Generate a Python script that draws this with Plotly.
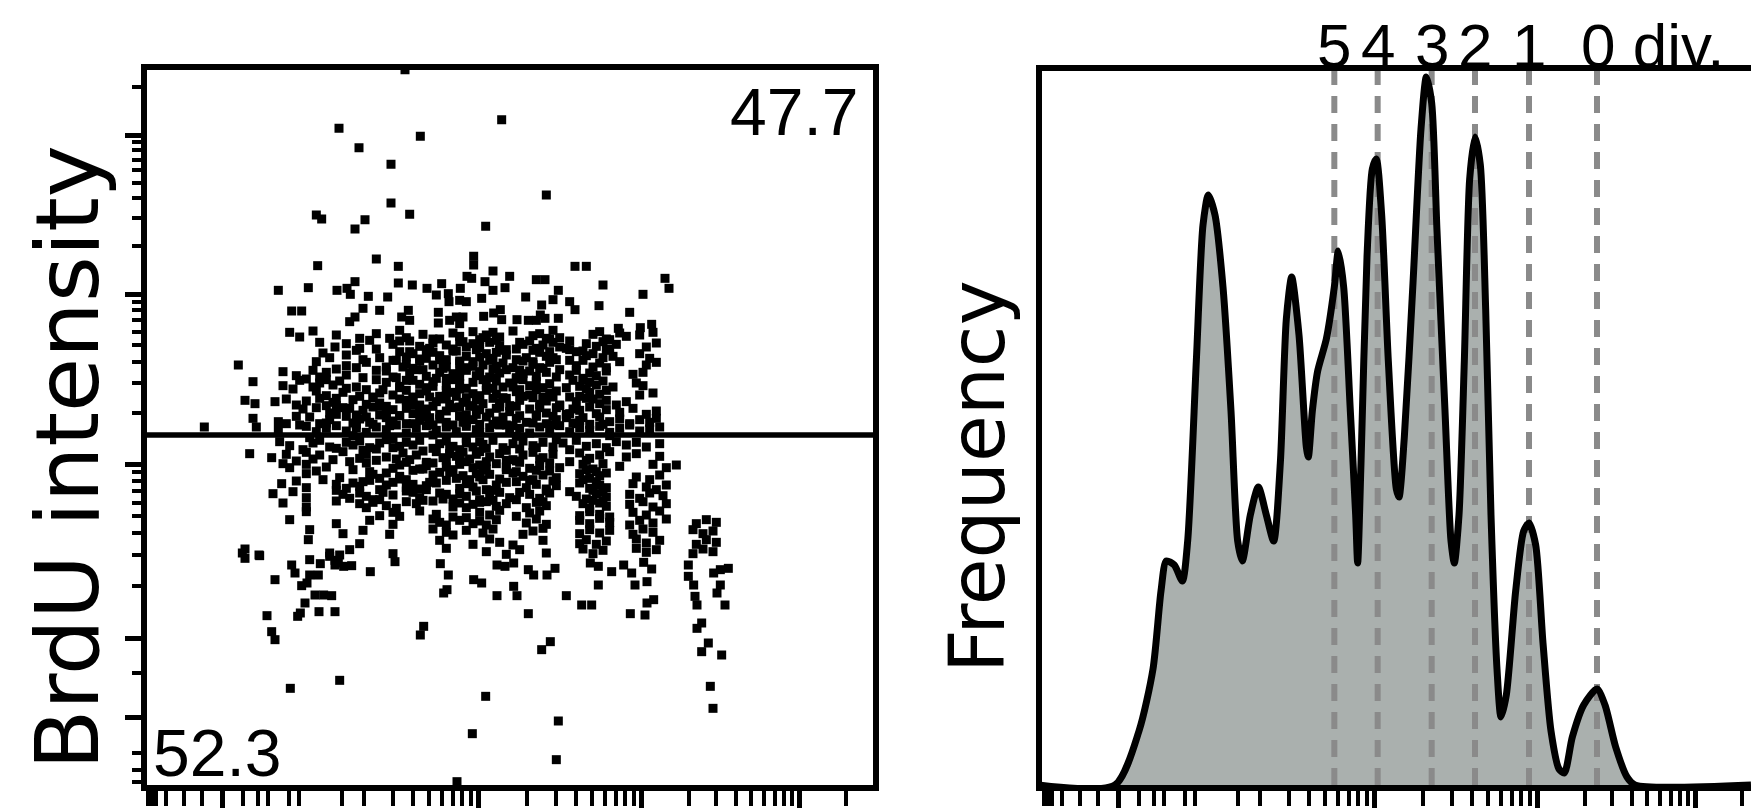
import numpy as np
import plotly.graph_objects as go

# ---------------- BrdU vs CFSE dot plot (channel units) ----------------
# isolated events: (CFSE channel, BrdU channel)
sparse_points = [
    (393, 1076), (294, 988), (416, 976), (324, 959), (372, 934), (538, 1001), (372, 876),
    (260, 858), (268, 852), (400, 859), (333, 851), (318, 837), (605, 888), (514, 841),
    (350, 792), (262, 782), (383, 781), (383, 756), (496, 796), (496, 783), (203, 745),
    (248, 749), (291, 745), (306, 748), (311, 739), (318, 758), (404, 753), (426, 748),
    (448, 755), (440, 738), (458, 740), (459, 728), (476, 748), (486, 766), (493, 763),
    (338, 736), (367, 735), (223, 714), (238, 714), (330, 718), (318, 705), (310, 698),
    (355, 715), (388, 705), (398, 715), (400, 700), (443, 712), (443, 696), (460, 700),
    (470, 705), (480, 705), (475, 695), (475, 730), (485, 728),
    (648, 781), (665, 781), (525, 774), (550, 766), (590, 761), (603, 761), (513, 758),
    (525, 745), (543, 749), (783, 763), (789, 748), (690, 753), (750, 739), (623, 745),
    (615, 731), (574, 735), (640, 728), (648, 716), (684, 722), (730, 712), (763, 694),
    (598, 723), (596, 708), (603, 703), (590, 700), (536, 716), (526, 711), (538, 701),
    (508, 733), (511, 706), (561, 701), (578, 700), (623, 703), (713, 688), (746, 689),
    (143, 633), (92, 540), (149, 351), (174, 348),
    (198, 311), (223, 333), (228, 321), (250, 318), (263, 318), (246, 306), (238, 302),
    (266, 335), (288, 333), (301, 331), (313, 332), (293, 336), (341, 323), (378, 338),
    (446, 335), (458, 318), (456, 296), (451, 291), (496, 311), (258, 288), (271, 288),
    (283, 287), (243, 276), (236, 261), (232, 256), (264, 263), (288, 263), (186, 257),
    (193, 233), (198, 221), (421, 241), (416, 228), (295, 160), (221, 148), (494, 80),
    (471, 8),
    (531, 333), (543, 331), (556, 336), (508, 306), (531, 287), (556, 301), (561, 287),
    (578, 326), (586, 318), (606, 318), (618, 328), (578, 260), (635, 287), (611, 218),
    (598, 206), (671, 336), (683, 331), (703, 323), (683, 303), (658, 273), (673, 273),
    (721, 333), (733, 321), (738, 303), (751, 337), (763, 327), (756, 308), (731, 260),
    (753, 258), (756, 276), (766, 281), (818, 333), (818, 316), (826, 303), (828, 286),
    (831, 273), (856, 321), (866, 326), (878, 328), (866, 303), (861, 291), (873, 273),
    (838, 246), (831, 238), (848, 216), (838, 203), (868, 198), (851, 151), (855, 118),
    (514, 136), (623, 99), (620, 41),
]

# dense core, one band at a time: (CFSE channels, BrdU channels)
core_bands = [
    ([220, 235, 255, 290, 325, 350, 385, 395, 420, 435, 465, 475, 495, 505, 515, 525, 535, 555,
      585, 595, 605, 615, 625, 675, 685, 695, 715, 725, 745, 765],
     [682, 675, 684, 678, 673, 680, 685, 674, 679, 672, 681, 676, 683, 671, 678, 682, 675, 684,
      677, 680, 673, 685, 674, 679, 683, 672, 681, 676, 678, 682]),
    ([340, 370, 400, 445, 480, 510, 530, 565, 610, 640, 700],
     [670, 673, 669, 672, 668, 674, 670, 667, 672, 669, 671]),
    ([265, 288, 305, 325, 375, 385, 415, 425, 435, 455, 465, 475, 485, 495, 505, 520, 535, 545,
      570, 580, 590, 600, 615, 625, 640, 665, 680, 690, 700, 710, 755, 770],
     [667, 660, 665, 658, 664, 669, 661, 656, 666, 663, 657, 668, 660, 665, 659, 667, 662, 656,
      664, 669, 658, 663, 667, 660, 656, 665, 661, 668, 657, 664, 660, 666]),
    ([320, 350, 400, 430, 470, 500, 530, 560, 585, 610, 635, 660],
     [655, 657, 653, 658, 654, 656, 652, 657, 655, 653, 658, 654]),
    ([270, 280, 305, 385, 395, 405, 415, 435, 445, 455, 465, 485, 515, 525, 535, 545, 575, 595,
      605, 620, 650, 665, 675, 690, 695, 705, 745, 760],
     [651, 644, 648, 653, 645, 650, 642, 652, 647, 641, 654, 646, 650, 643, 655, 648, 644, 652,
      646, 641, 653, 647, 650, 644, 655, 646, 650, 643]),
    ([330, 355, 380, 425, 475, 505, 560, 585, 615, 640],
     [641, 644, 640, 643, 639, 645, 641, 638, 644, 640]),
    ([260, 305, 335, 365, 375, 395, 405, 415, 435, 445, 455, 475, 485, 495, 510, 520, 530, 540,
      555, 570, 585, 600, 610, 650, 660, 675, 685, 695, 715, 755, 770],
     [638, 632, 637, 630, 640, 634, 628, 639, 633, 641, 630, 636, 629, 638, 633, 640, 631, 636,
      629, 639, 634, 628, 637, 632, 640, 630, 636, 629, 638, 633, 637]),
    ([290, 320, 350, 390, 420, 450, 475, 495, 525, 565, 595, 625],
     [627, 629, 625, 630, 626, 628, 624, 631, 627, 625, 629, 626]),
    ([210, 230, 255, 265, 275, 305, 365, 380, 400, 410, 425, 445, 455, 465, 485, 500, 505, 520,
      535, 545, 560, 570, 580, 590, 605, 640, 650, 660, 670, 680, 695, 735, 750],
     [623, 617, 625, 615, 622, 618, 624, 614, 621, 626, 616, 622, 613, 620, 625, 617, 623, 615,
      621, 626, 614, 620, 624, 616, 622, 618, 625, 613, 621, 617, 624, 619, 622]),
    ([245, 330, 350, 375, 405, 440, 475, 510, 525, 560, 620, 660],
     [612, 614, 611, 615, 610, 613, 616, 611, 614, 612, 615, 610]),
    ([165, 210, 235, 255, 265, 275, 285, 295, 305, 365, 385, 395, 415, 425, 435, 455, 465, 475,
      485, 495, 515, 530, 540, 550, 570, 580, 590, 600, 610, 645, 655, 670, 680, 690, 705, 740, 750],
     [608, 602, 610, 600, 606, 611, 603, 609, 598, 607, 601, 610, 604, 599, 608, 602, 611, 605,
      598, 607, 603, 609, 600, 606, 611, 602, 608, 599, 605, 610, 601, 607, 603, 609, 600, 606, 602]),
    ([225, 320, 360, 385, 435, 455, 525, 555, 565, 635, 665],
     [597, 600, 596, 599, 601, 595, 598, 600, 596, 599, 597]),
    ([260, 275, 300, 335, 345, 355, 375, 395, 405, 415, 425, 445, 465, 475, 485, 495, 505, 515,
      530, 545, 560, 580, 590, 600, 610, 620, 655, 670, 685, 695, 745, 765],
     [594, 587, 592, 596, 585, 591, 588, 595, 583, 590, 594, 586, 592, 597, 584, 590, 587, 595,
      589, 583, 593, 588, 596, 585, 591, 594, 586, 592, 589, 595, 588, 591]),
    ([290, 325, 385, 430, 455, 500, 540, 570, 600, 640, 665],
     [583, 586, 582, 585, 587, 581, 584, 586, 582, 585, 583]),
    ([153, 168, 198, 215, 230, 245, 265, 275, 285, 315, 335, 345, 355, 365, 395, 405, 415, 440,
      450, 460, 470, 480, 490, 505, 510, 525, 535, 550, 565, 585, 595, 605, 615, 625, 650, 675,
      685, 695, 710, 725],
     [580, 575, 578, 582, 573, 579, 583, 572, 577, 581, 574, 584, 576, 571, 580, 585, 573, 578,
      582, 574, 586, 577, 571, 581, 575, 583, 576, 572, 580, 584, 574, 579, 585, 572, 578, 582,
      575, 580, 573, 578]),
    ([260, 290, 310, 355, 405, 425, 475, 495, 530, 560, 595, 625, 645],
     [569, 572, 568, 571, 573, 567, 570, 572, 568, 571, 569, 573, 567]),
    ([240, 280, 300, 320, 330, 345, 365, 375, 385, 395, 415, 435, 445, 455, 465, 485, 505, 520,
      535, 550, 565, 580, 605, 620, 635, 655, 670, 680, 695, 715, 735, 755, 770],
     [567, 561, 569, 558, 565, 570, 560, 566, 557, 568, 562, 571, 559, 564, 569, 558, 566, 561,
      570, 563, 557, 567, 561, 569, 559, 565, 570, 560, 566, 562, 568, 559, 564]),
    ([230, 290, 335, 355, 405, 430, 475, 500, 540, 590, 615, 640, 660],
     [556, 559, 555, 558, 560, 554, 557, 559, 555, 558, 556, 560, 554]),
    ([165, 203, 250, 265, 280, 305, 315, 325, 345, 365, 375, 385, 395, 415, 425, 435, 445, 455,
      475, 485, 495, 505, 515, 530, 545, 560, 575, 590, 605, 620, 635, 645, 655, 670, 685, 700,
      715, 730, 745, 760, 770],
     [553, 548, 555, 545, 551, 556, 546, 552, 544, 554, 549, 557, 545, 550, 555, 543, 552, 547,
      556, 546, 551, 544, 555, 549, 543, 553, 547, 556, 545, 551, 554, 546, 550, 544, 555, 548,
      552, 545, 551, 547, 553]),
    ([215, 235, 275, 320, 340, 370, 405, 430, 465, 480, 525, 555, 585, 615, 650, 690],
     [545, 543, 546, 544, 547, 542, 545, 546, 543, 547, 544, 542, 546, 543, 545, 544]),
    ([170, 203, 245, 260, 275, 290, 305, 320, 335, 350, 365, 380, 395, 410, 425, 440, 455, 470,
      485, 500, 505, 520, 535, 550, 565, 580, 595, 610, 625, 640, 655, 670, 685, 700, 715, 730,
      745, 760, 775],
     [540, 535, 541, 533, 538, 542, 534, 539, 532, 540, 536, 543, 531, 538, 542, 535, 540, 533,
      541, 536, 532, 539, 543, 534, 538, 531, 540, 536, 542, 533, 539, 535, 541, 532, 538, 543,
      534, 537, 540]),
    ([250, 315, 375, 435, 485, 560, 620, 700],
     [524, 527, 522, 528, 523, 526, 521, 527]),
    ([205, 220, 255, 265, 280, 305, 315, 325, 340, 355, 365, 385, 395, 405, 415, 435, 445, 455,
      465, 485, 495, 505, 510, 525, 540, 555, 570, 585, 600, 615, 630, 650, 665, 680, 695, 710,
      725, 740, 755, 775],
     [518, 512, 516, 520, 510, 517, 513, 519, 509, 516, 521, 511, 517, 513, 520, 508, 515, 519,
      511, 516, 510, 518, 514, 520, 509, 515, 519, 512, 517, 510, 516, 520, 511, 515, 509, 518,
      513, 517, 510, 515]),
    ([240, 290, 330, 350, 375, 420, 460, 475, 515, 545, 565, 590, 640],
     [506, 508, 505, 507, 509, 504, 507, 506, 508, 505, 507, 509, 506]),
    ([160, 193, 215, 245, 255, 265, 300, 325, 335, 365, 390, 400, 410, 440, 450, 460, 470, 480,
      490, 500, 505, 520, 535, 555, 570, 585, 600, 615, 655, 670, 685, 700, 725, 740, 775],
     [500, 494, 499, 502, 492, 498, 503, 493, 499, 495, 501, 491, 498, 503, 494, 500, 496, 502,
      492, 499, 503, 495, 500, 491, 498, 502, 494, 499, 501, 493, 498, 503, 495, 500, 496]),
    ([230, 285, 310, 350, 380, 425, 455, 475, 515, 545, 560, 595, 640, 665],
     [489, 491, 488, 490, 492, 487, 490, 491, 488, 490, 489, 492, 488, 490]),
    ([210, 220, 245, 275, 335, 375, 385, 395, 415, 425, 435, 455, 465, 475, 485, 495, 505, 515,
      530, 545, 565, 580, 595, 610, 625, 660, 675, 690, 715, 765, 785, 800],
     [485, 479, 484, 480, 486, 478, 483, 487, 477, 482, 486, 480, 476, 484, 488, 479, 483, 477,
      485, 480, 487, 478, 482, 486, 479, 484, 477, 485, 481, 484, 479, 483]),
    ([260, 315, 340, 405, 420, 445, 510, 545, 560, 590, 610, 665, 680],
     [474, 476, 473, 475, 477, 472, 475, 476, 473, 475, 474, 476, 473]),
    ([245, 295, 345, 355, 365, 385, 395, 435, 460, 470, 480, 490, 500, 505, 520, 535, 555, 570,
      585, 600, 620, 655, 670, 685, 695, 740, 760, 775],
     [470, 464, 469, 463, 471, 466, 461, 468, 472, 463, 467, 461, 470, 465, 469, 462, 471, 466,
      461, 468, 464, 470, 463, 467, 471, 465, 461, 468]),
    ([230, 270, 330, 340, 385, 430, 455, 510, 560, 580, 615, 660, 680],
     [459, 461, 458, 460, 462, 457, 460, 461, 458, 460, 459, 461, 458]),
    ([208, 245, 290, 305, 315, 325, 355, 365, 375, 395, 405, 415, 425, 440, 475, 485, 495, 515,
      530, 545, 575, 590, 605, 620, 655, 670, 685, 695, 735, 755, 770, 785],
     [455, 449, 454, 448, 456, 451, 446, 453, 457, 449, 454, 447, 452, 456, 448, 455, 450, 446,
      453, 457, 449, 454, 447, 452, 456, 448, 453, 449, 455, 450, 446, 453]),
    ([225, 290, 360, 395, 425, 445, 500, 525, 565, 605, 640, 675, 690],
     [443, 445, 442, 444, 446, 441, 444, 445, 442, 444, 443, 445, 442]),
    ([195, 245, 300, 310, 325, 335, 345, 375, 405, 415, 455, 465, 475, 485, 505, 520, 535, 550,
      580, 595, 610, 650, 665, 680, 695, 730, 745, 760, 780],
     [440, 434, 439, 433, 441, 436, 431, 438, 442, 434, 439, 432, 440, 436, 431, 438, 442, 434,
      439, 433, 441, 436, 432, 440, 435, 439, 433, 441, 437]),
    ([290, 355, 395, 420, 450, 505, 525, 560, 600, 675, 690],
     [429, 431, 428, 430, 432, 427, 430, 431, 428, 430, 429]),
    ([210, 245, 325, 335, 345, 365, 380, 410, 435, 465, 475, 485, 495, 515, 530, 545, 575, 590,
      605, 660, 670, 685, 695, 730, 750, 765, 785],
     [426, 420, 425, 419, 427, 422, 418, 425, 429, 420, 426, 419, 424, 428, 421, 425, 419, 427,
      422, 425, 418, 426, 421, 424, 428, 420, 425]),
    ([245, 355, 375, 385, 415, 440, 465, 505, 520, 535, 560, 580, 595, 655, 670, 685, 700, 735,
      755, 775],
     [413, 407, 412, 406, 414, 409, 405, 412, 408, 415, 406, 411, 414, 407, 413, 409, 405, 412,
      408, 414]),
    ([220, 290, 340, 375, 435, 445, 455, 475, 485, 495, 505, 515, 530, 575, 590, 605, 655, 670,
      685, 700, 730, 745, 765, 785, 830, 845, 860],
     [401, 395, 400, 394, 402, 397, 393, 400, 404, 395, 399, 393, 401, 396, 402, 394, 400, 395,
      403, 397, 393, 400, 396, 402, 395, 401, 397]),
    ([250, 300, 330, 370, 435, 455, 465, 485, 510, 525, 570, 585, 600, 655, 670, 685, 700, 735,
      750, 765, 825, 840, 855],
     [386, 380, 385, 379, 387, 382, 378, 385, 381, 387, 379, 384, 388, 380, 386, 381, 385, 379,
      387, 382, 386, 380, 384]),
    ([248, 325, 445, 495, 520, 535, 555, 600, 655, 665, 680, 695, 740, 755, 775, 830, 845, 860],
     [371, 365, 370, 364, 372, 367, 363, 370, 365, 371, 364, 369, 372, 366, 370, 364, 371, 367]),
    ([153, 280, 310, 375, 455, 515, 545, 565, 605, 660, 675, 690, 740, 755, 770, 825, 840, 855],
     [357, 351, 356, 350, 358, 353, 349, 356, 351, 357, 350, 355, 358, 352, 356, 350, 357, 353]),
    ([153, 175, 250, 280, 288, 295],
     [343, 347, 341, 346, 340, 348]),
]

cfse = [p[0] for p in sparse_points]
brdu = [p[1] for p in sparse_points]
for band_x, band_y in core_bands:
    cfse.extend(band_x)
    brdu.extend(band_y)

gate_brdu = 528            # horizontal BrdU gate
upper_pct, lower_pct = "47.7", "52.3"

# ---------------- CFSE histogram (channel units / events) ----------------
hist_cfse = [0, 114, 150, 171, 183, 191, 203, 215, 223, 236, 246, 254, 264, 276, 288, 298, 305,
             317, 329, 341, 352, 362, 371, 379, 390, 401, 404, 410, 418, 431, 443, 449, 457, 467,
             475, 478, 483, 492, 500, 506, 514, 524, 536, 540, 548, 561, 573, 581, 589, 597, 609,
             618, 623, 630, 638, 646, 654, 662, 670, 678, 687, 693, 701, 715, 727, 735, 745, 756,
             768, 780, 788, 800, 817, 837, 849, 865, 882, 894, 1068]
hist_count = [0, 0, 27, 58, 97, 112, 110, 102, 122, 212, 280, 295, 285, 249, 187, 122, 112,
              135, 149, 135, 122, 161, 233, 254, 225, 169, 164, 187, 207, 223, 249, 267, 249, 187,
              135, 111, 161, 264, 308, 313, 285, 212, 148, 144, 174, 251, 328, 354, 341, 277, 187,
              122, 111, 135, 212, 303, 324, 310, 238, 135, 58, 34, 45, 97, 127, 131, 120, 71,
              27, 8, 6, 24, 40, 48, 40, 19, 4, 0, 0]
division_cfse = [443, 508, 589, 654, 735, 837]
division_labels = ["5", "4", "3", "2", "1", "0"]

W, H = 1751, 808

# ---------------- axis tick positions (biexponential display) ----------------
def decade_minors(lo, hi):
    return [float(lo + (hi - lo) * np.log10(k)) for k in range(2, 10)]

x_major = [118.5, 502.5, 747, 984]
x_minor = ([7.5, 13.5, 19.5, 34.5, 61.5, 88.5, 150, 172.5, 187.5, 219, 234, 298.5]
           + decade_minors(258, 502.5) + decade_minors(502.5, 747)
           + decade_minors(747, 984) + [1055])

y_major = [105, 223.5, 484.5, 739.5, 978]
y_minor = ([7.5, 25.5, 51, 171]
           + decade_minors(223.5, 484.5) + decade_minors(484.5, 739.5)
           + decade_minors(739.5, 978) + [1050])

fig = go.Figure()

fig.add_trace(go.Scatter(
    x=cfse, y=brdu, mode="markers", xaxis="x", yaxis="y",
    marker=dict(symbol="square", size=9, color="black", line=dict(width=0)),
    hoverinfo="skip", showlegend=False))

fig.add_trace(go.Scatter(
    x=[0, 1100], y=[gate_brdu, gate_brdu], mode="lines", xaxis="x", yaxis="y",
    line=dict(color="black", width=5.5), hoverinfo="skip", showlegend=False))

# histogram fill
fig.add_trace(go.Scatter(
    x=hist_cfse, y=hist_count, mode="lines", xaxis="x2", yaxis="y2",
    line=dict(shape="spline", smoothing=0.7, width=0, color="rgba(0,0,0,0)"),
    fill="tozeroy", fillcolor="#aab0ae", hoverinfo="skip", showlegend=False))

# generation markers
for xv in division_cfse:
    fig.add_trace(go.Scatter(
        x=[xv, xv], y=[0, 357], mode="lines", xaxis="x2", yaxis="y2",
        line=dict(color="#8a8a8a", width=6, dash="17px,11px"),
        hoverinfo="skip", showlegend=False))

# histogram outline
fig.add_trace(go.Scatter(
    x=hist_cfse, y=hist_count, mode="lines", xaxis="x2", yaxis="y2",
    line=dict(shape="spline", smoothing=0.7, width=7, color="black"),
    hoverinfo="skip", showlegend=False))

axis_common = dict(showgrid=False, zeroline=False, showline=True, linecolor="black",
                   linewidth=6, showticklabels=False)
x_ticks = dict(ticks="outside", tickmode="array", tickvals=x_major, ticklen=24, tickwidth=4.5,
               tickcolor="black",
               minor=dict(ticks="outside", tickmode="array", tickvals=x_minor,
                          ticklen=15, tickwidth=4, tickcolor="black"))

fig.update_layout(
    width=W, height=H,
    margin=dict(l=0, r=0, t=0, b=0),
    paper_bgcolor="white", plot_bgcolor="white",
    showlegend=False,
    xaxis=dict(domain=[147 / W, 873 / W], range=[6, 1095], mirror=True,
               anchor="y", **x_ticks, **axis_common),
    yaxis=dict(domain=[23 / H, (H - 69.5) / H], range=[3, 1076.25], mirror=True,
               ticks="outside", tickmode="array", tickvals=y_major, ticklen=16, tickwidth=4.5,
               tickcolor="black",
               minor=dict(ticks="outside", tickmode="array", tickvals=y_minor,
                          ticklen=9, tickwidth=4, tickcolor="black"),
               anchor="x", **axis_common),
    xaxis2=dict(domain=[1041.5 / W, 1.0], range=[3.75, 1068], mirror=True,
                anchor="y2", **x_ticks, **axis_common),
    yaxis2=dict(domain=[23 / H, (H - 71) / H], range=[0, 357], mirror=False,
                ticks="", anchor="x2", **axis_common),
)

num_font = dict(family="Liberation Sans, Arial, sans-serif", color="black")

fig.add_annotation(x=1075, y=1012, xref="x", yref="y", text=upper_pct,
                   showarrow=False, xanchor="right", yanchor="middle",
                   font=dict(size=66, **num_font))
fig.add_annotation(x=12, y=51, xref="x", yref="y", text=lower_pct,
                   showarrow=False, xanchor="left", yanchor="middle",
                   font=dict(size=66, **num_font))

label_y = (H - 45) / H
for xv, lab in zip(division_cfse, division_labels):
    if lab == "0":
        fig.add_annotation(x=xv, y=label_y, xref="x2", yref="paper", text="0 div.",
                           showarrow=False, xanchor="left", yanchor="middle", xshift=-18,
                           font=dict(size=62, **num_font))
    else:
        fig.add_annotation(x=xv, y=label_y, xref="x2", yref="paper", text=lab,
                           showarrow=False, xanchor="center", yanchor="middle",
                           font=dict(size=62, **num_font))

title_font = dict(family="DejaVu Sans, sans-serif", color="black")
fig.add_annotation(x=67 / W, y=(H - 458) / H, xref="paper", yref="paper",
                   text="BrdU intensity", textangle=-90, showarrow=False,
                   xanchor="center", yanchor="middle", font=dict(size=88, **title_font))
fig.add_annotation(x=977 / W, y=(H - 476) / H, xref="paper", yref="paper",
                   text="Frequency", textangle=-90, showarrow=False,
                   xanchor="center", yanchor="middle", font=dict(size=76, **title_font))

fig.write_html("out.html")
